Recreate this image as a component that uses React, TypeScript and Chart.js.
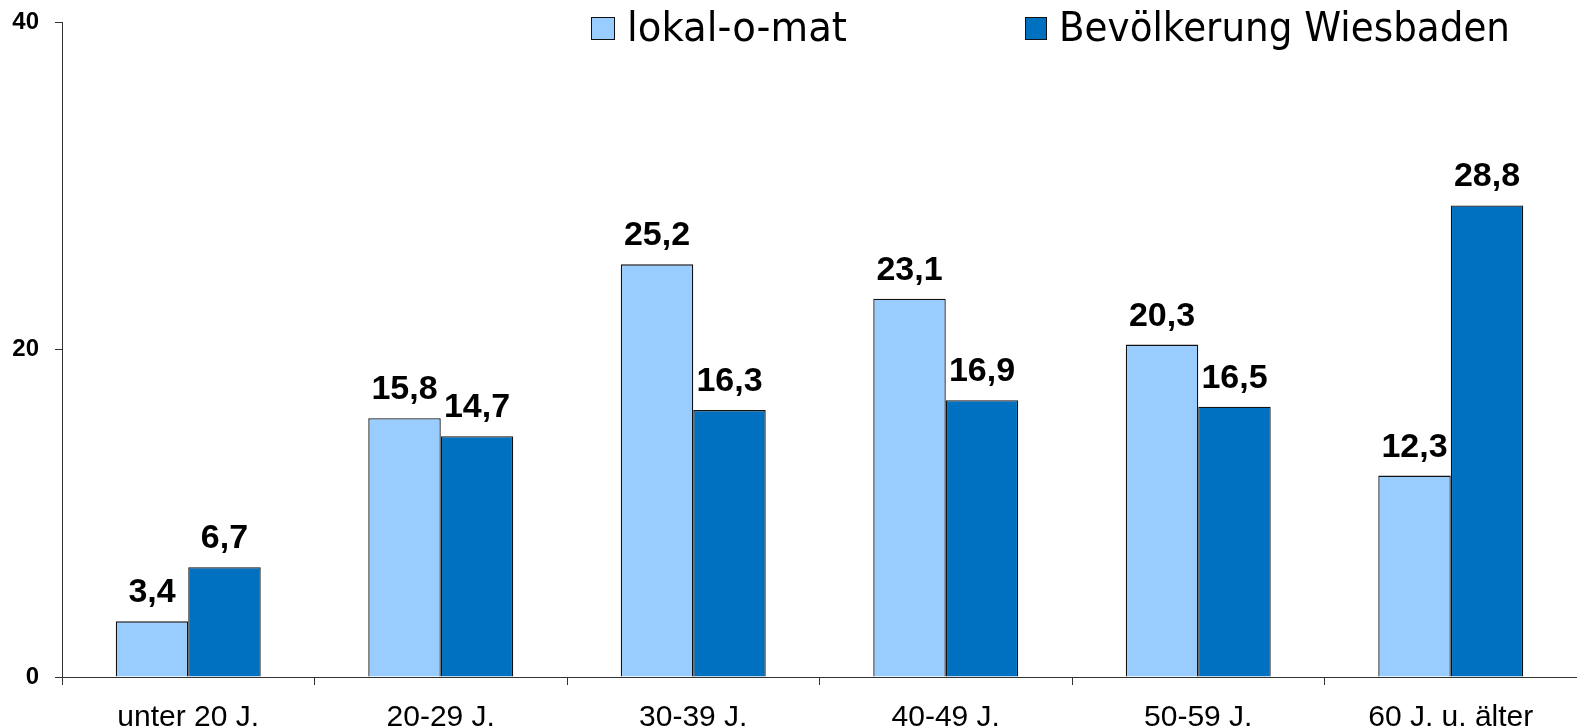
import React, { useEffect, useRef } from "react";
import { Chart, registerables } from "chart.js";

Chart.register(...registerables);

const categories = ["unter 20 J.", "20-29 J.", "30-39 J.", "40-49 J.", "50-59 J.", "60 J. u. älter"];
const lokalOMat = [3.4, 15.8, 25.2, 23.1, 20.3, 12.3];
const wiesbaden = [6.7, 14.7, 16.3, 16.9, 16.5, 28.8];
const seriesNames = ["lokal-o-mat", "Bevölkerung Wiesbaden"];
const seriesColors = ["#99CCFF", "#0070C0"];
const yMin = 0;
const yMax = 40;
const yStep = 20;

const SANS = "'Liberation Sans', Arial, sans-serif";

const valueLabels = {
  id: "valueLabels",
  afterDatasetsDraw(chart: any) {
    const ctx = chart.ctx;
    ctx.save();
    ctx.font = `bold 34px ${SANS}`;
    ctx.fillStyle = "#000";
    ctx.textAlign = "center";
    ctx.textBaseline = "alphabetic";
    chart.data.datasets.forEach((ds: any, i: number) => {
      chart.getDatasetMeta(i).data.forEach((bar: any, j: number) => {
        const v = ds.data[j] as number;
        ctx.fillText(v.toFixed(1).replace(".", ","), bar.x, bar.y - 19);
      });
    });
    ctx.restore();
  },
};

const customLegend = {
  id: "customLegend",
  afterDraw(chart: any) {
    const ctx = chart.ctx;
    const items = [
      { boxX: 591, boxW: 24, textX: 627, textW: 220 },
      { boxX: 1025, boxW: 22, textX: 1059, textW: 451 },
    ];
    ctx.save();
    ctx.font = `41px 'DejaVu Sans', sans-serif`;
    ctx.textAlign = "left";
    ctx.textBaseline = "alphabetic";
    chart.data.datasets.forEach((ds: any, i: number) => {
      const it = items[i];
      if (!it) return;
      ctx.fillStyle = ds.backgroundColor;
      ctx.fillRect(it.boxX, 17, it.boxW, 23);
      ctx.strokeStyle = "#111";
      ctx.lineWidth = 1;
      ctx.strokeRect(it.boxX + 0.5, 17.5, it.boxW - 1, 22);
      ctx.fillStyle = "#000";
      const w = ctx.measureText(ds.label).width;
      const sx = it.textW / w;
      ctx.save();
      ctx.translate(it.textX, 41);
      ctx.scale(sx, 1);
      ctx.fillText(ds.label, 0, 0);
      ctx.restore();
    });
    ctx.restore();
  },
};

export default function App() {
  const ref = useRef<HTMLCanvasElement | null>(null);

  useEffect(() => {
    if (!ref.current) return;
    const chart = new Chart(ref.current, {
      type: "bar",
      data: {
        labels: categories,
        datasets: [
          {
            label: seriesNames[0],
            data: lokalOMat,
            backgroundColor: seriesColors[0],
            borderColor: "#111",
            borderWidth: 1.3,
            categoryPercentage: 0.574,
            barPercentage: 1,
          },
          {
            label: seriesNames[1],
            data: wiesbaden,
            backgroundColor: seriesColors[1],
            borderColor: "#111",
            borderWidth: 1.3,
            categoryPercentage: 0.574,
            barPercentage: 1,
          },
        ],
      },
      options: {
        responsive: false,
        animation: false,
        layout: { padding: { top: 22, left: 0, right: 0, bottom: 0 } },
        plugins: {
          legend: { display: false },
          tooltip: { enabled: false },
        },
        scales: {
          x: {
            grid: {
              drawOnChartArea: false,
              drawTicks: true,
              tickLength: 8,
              color: "#333",
              offset: true,
            },
            border: { display: true, color: "#333", width: 1 },
            ticks: {
              color: "#000",
              font: { family: SANS, size: 30 },
              padding: 15,
              maxRotation: 0,
              autoSkip: false,
            },
            afterFit(scale: any) {
              scale.height = 50;
              scale.paddingLeft = 0;
              scale.paddingRight = 0;
            },
          },
          y: {
            min: yMin,
            max: yMax,
            grid: {
              drawOnChartArea: false,
              drawTicks: true,
              tickLength: 7,
              color: "#333",
            },
            border: { display: true, color: "#333", width: 1 },
            ticks: {
              stepSize: yStep,
              color: "#000",
              font: { family: SANS, size: 24, weight: "bold" },
              padding: 16,
            },
            afterFit(scale: any) {
              scale.width = 62;
              scale.paddingTop = 0;
              scale.paddingBottom = 0;
            },
          },
        },
      },
      plugins: [valueLabels, customLegend],
    });
    return () => chart.destroy();
  }, []);

  return (
    <div style={{ position: "absolute", left: 0, top: 0, width: 1577, height: 727, background: "#fff" }}>
      <canvas ref={ref} width={1577} height={727} style={{ display: "block" }} />
    </div>
  );
}
